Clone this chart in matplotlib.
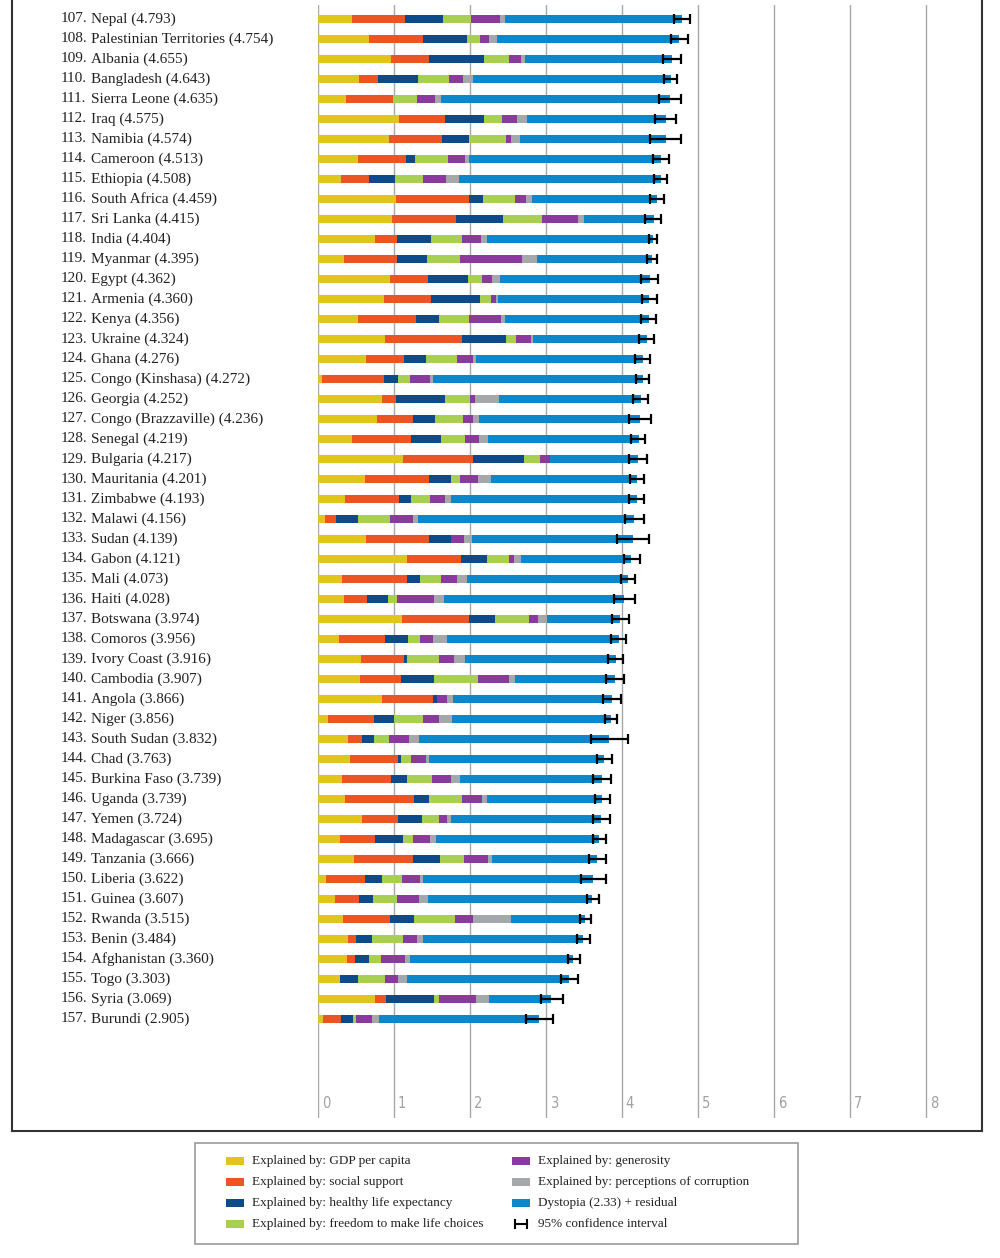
import matplotlib
matplotlib.use("Agg")
import matplotlib.pyplot as plt
from matplotlib.patches import Rectangle
from matplotlib.lines import Line2D

# data (ranks 107-157)
ranks = list(range(107, 158))
countries = ["Nepal", "Palestinian Territories", "Albania", "Bangladesh", "Sierra Leone",
             "Iraq", "Namibia", "Cameroon", "Ethiopia", "South Africa", "Sri Lanka", "India",
             "Myanmar", "Egypt", "Armenia", "Kenya", "Ukraine", "Ghana", "Congo (Kinshasa)",
             "Georgia", "Congo (Brazzaville)", "Senegal", "Bulgaria", "Mauritania", "Zimbabwe",
             "Malawi", "Sudan", "Gabon", "Mali", "Haiti", "Botswana", "Comoros", "Ivory Coast",
             "Cambodia", "Angola", "Niger", "South Sudan", "Chad", "Burkina Faso", "Uganda",
             "Yemen", "Madagascar", "Tanzania", "Liberia", "Guinea", "Rwanda", "Benin",
             "Afghanistan", "Togo", "Syria", "Burundi"]
scores = [4.793, 4.754, 4.655, 4.643, 4.635, 4.575, 4.574, 4.513, 4.508, 4.459, 4.415, 4.404,
          4.395, 4.362, 4.360, 4.356, 4.324, 4.276, 4.272, 4.252, 4.236, 4.219, 4.217, 4.201,
          4.193, 4.156, 4.139, 4.121, 4.073, 4.028, 3.974, 3.956, 3.916, 3.907, 3.866, 3.856,
          3.832, 3.763, 3.739, 3.739, 3.724, 3.695, 3.666, 3.622, 3.607, 3.515, 3.484, 3.360,
          3.303, 3.069, 2.905]
gdp = [.447, .667, .956, .544, .364, 1.070, .930, .530, .298, 1.022, .974, .746, .338, .950,
       .864, .522, .877, .632, .057, .838, .772, .447, 1.114, .618, .355, .088, .627, 1.167,
       .311, .338, 1.100, .276, .561, .557, .846, .136, .400, .425, .320, .351, .583, .290,
       .474, .110, .228, .330, .400, .386, .290, .750, .070]
social = [.697, .719, .500, .250, .627, .596, .706, .623, .377, .960, .846, .290, .706, .500,
          .618, .768, 1.013, .496, .807, .193, .478, .772, .925, .842, .710, .154, .830, .715,
          .864, .303, .886, .600, .566, .535, .662, .605, .184, .632, .636, .908, .474, .460,
          .776, .504, .311, .618, .096, .100, 0, .149, .228]
health = [.500, .570, .728, .526, 0, .513, .346, .123, .338, .189, .618, .447, .395, .518,
          .645, .298, .579, .294, .193, .640, .285, .404, .675, .285, .154, .290, .294, .346,
          .162, .276, .342, .307, .048, .430, .057, .259, .158, .035, .210, .197, .307, .364,
          .355, .232, .189, .316, .220, .184, .240, .632, .162]
freedom = [.368, .180, .325, .400, .307, .246, .487, .430, .373, .420, .513, .408, .434, .190,
           .145, .400, .130, .408, .149, .325, .377, .311, .210, .127, .259, .412, 0, .285,
           .276, .118, .447, .154, .412, .588, .006, .380, .193, .127, .333, .434, .228, .136,
           .311, .254, .307, .544, .400, .162, .346, .066, .044]
generosity = [.382, .110, .162, .190, .246, .197, .070, .224, .294, .140, .469, .250, .816,
              .127, .070, .420, .206, .215, .263, .070, .123, .189, .127, .228, .189, .303,
              .175, .066, .210, .487, .123, .180, .200, .404, .123, .210, .259, .197, .246,
              .272, .105, .224, .320, .241, .294, .232, .193, .311, .175, .482, .200]
corruption = [.070, .105, .053, .127, .079, .130, .114, .060, .171, .079, .079, .080, .197,
              .105, .030, .057, .018, .030, .044, .311, .088, .118, .006, .171, .083, .075,
              .105, .088, .140, .130, .110, .184, .150, .075, .083, .171, .130, .040, .123,
              .057, .053, .075, .048, .044, .123, .504, .070, .061, .114, .167, .096]
dystopia = [2.329, 2.403, 1.931, 2.606, 3.012, 1.823, 1.921, 2.523, 2.657, 1.649, 0.916, 2.183,
            1.509, 1.972, 1.988, 1.891, 1.501, 2.201, 2.759, 1.875, 2.113, 1.978, 1.160, 1.930,
            2.443, 2.834, 2.108, 1.454, 2.110, 2.376, 0.966, 2.255, 1.979, 1.318, 2.089, 2.095,
            2.508, 2.307, 1.871, 1.520, 1.974, 2.146, 1.382, 2.237, 2.155, 0.971, 2.105, 2.156,
            2.138, 0.823, 2.105]
ci_low = [4.684, 4.640, 4.544, 4.553, 4.491, 4.439, 4.368, 4.412, 4.421, 4.364, 4.307, 4.351,
          4.325, 4.246, 4.259, 4.246, 4.224, 4.167, 4.184, 4.149, 4.092, 4.123, 4.092, 4.105,
          4.092, 4.035, 3.930, 4.026, 3.982, 3.895, 3.873, 3.860, 3.820, 3.789, 3.754, 3.772,
          3.596, 3.667, 3.623, 3.640, 3.623, 3.623, 3.566, 3.465, 3.535, 3.447, 3.412, 3.289,
          3.193, 2.939, 2.732]
ci_high = [4.895, 4.868, 4.772, 4.728, 4.772, 4.711, 4.772, 4.614, 4.596, 4.553, 4.518, 4.456,
           4.465, 4.474, 4.465, 4.447, 4.421, 4.368, 4.360, 4.342, 4.386, 4.298, 4.333, 4.289,
           4.289, 4.289, 4.360, 4.232, 4.167, 4.167, 4.092, 4.057, 4.018, 4.026, 3.982, 3.939,
           4.079, 3.864, 3.860, 3.838, 3.842, 3.785, 3.785, 3.789, 3.693, 3.596, 3.575, 3.447,
           3.421, 3.219, 3.092]

components = [gdp, social, health, freedom, generosity, corruption, dystopia]
labels = ["Explained by: GDP per capita", "Explained by: social support",
          "Explained by: healthy life expectancy", "Explained by: freedom to make life choices",
          "Explained by: generosity", "Explained by: perceptions of corruption",
          "Dystopia (2.33) + residual"]
colors = ["#E3C41E", "#EF5322", "#0D4A8A", "#A9CF4F", "#8A3A9C", "#A5A8AA", "#0B87CD"]

serif = ["Liberation Serif", "DejaVu Serif"]

fig = plt.figure(figsize=(10, 12.58), dpi=100)
W, H = 1000, 1258

# axes: 0 at x=318, 8 at x=926 (76 px per unit), a little room right of 8
ax = fig.add_axes([318 / W, 1 - 1118 / H, (928 - 318) / W, (1118 - 5) / H])
y = list(range(len(countries)))
left = [0] * len(countries)
for vals, col in zip(components, colors):
    ax.barh(y, vals, left=left, height=0.42, color=col, zorder=2, linewidth=0)
    left = [a + b for a, b in zip(left, vals)]

xerr = [[s - lo for s, lo in zip(scores, ci_low)], [hi - s for s, hi in zip(scores, ci_high)]]
ax.errorbar(scores, y, xerr=xerr, fmt="none", ecolor="black", elinewidth=1.6,
            capsize=3.8, capthick=1.6, zorder=3)

ax.set_xlim(0, 8 + 2 / 76)
ax.set_ylim(54.95, -0.7)
ax.set_xticks(range(9))
ax.set_xticklabels([])
ax.set_yticks([])
ax.tick_params(length=0)
ax.grid(axis="x", color="#a8a8a8", linewidth=1, zorder=0)
for s in ax.spines.values():
    s.set_visible(False)
for t in range(9):
    ax.text(t + 0.05, 54.6, str(t), color="#a0a0a0", fontsize=10.5, ha="left", va="bottom",
            family="DejaVu Sans", fontstretch="condensed")

# country labels
for i, (r, c, s) in enumerate(zip(ranks, countries, scores)):
    ypx = 19 + 20 * i
    fig.text(61 / W, 1 - ypx / H, f"{r}.", fontsize=11, family=serif, color="#222222",
             va="center", ha="left")
    fig.text(91 / W, 1 - ypx / H, f"{c} ({s:.3f})", fontsize=11, family=serif,
             color="#222222", va="center", ha="left")

# outer frame (no top line)
for xs, ys in [([12, 12], [0, 1131]), ([982, 982], [0, 1131]), ([12, 982], [1131, 1131])]:
    fig.add_artist(Line2D([x / W for x in xs], [1 - v / H for v in ys], color="#333333",
                          linewidth=1.5))

# legend box
fig.add_artist(Rectangle((195 / W, 1 - 1244 / H), (798 - 195) / W, (1244 - 1143) / H,
                         fill=False, edgecolor="#999999", linewidth=1.2))
rows_y = [1161, 1182, 1203, 1224]
entries = list(zip(labels, colors))
for k, (lab, col) in enumerate(entries):
    colx = 226 if k < 4 else 512
    ypx = rows_y[k % 4]
    fig.add_artist(Rectangle((colx / W, 1 - (ypx + 4) / H), 18 / W, 8 / H,
                             facecolor=col, edgecolor="none"))
    fig.text((colx + 26) / W, 1 - ypx / H, lab, fontsize=9.5, family=serif, color="#222222",
             va="center", ha="left")
# CI legend symbol
ypx = rows_y[3]
fig.add_artist(Line2D([515 / W, 527 / W], [1 - ypx / H] * 2, color="black", linewidth=1.5))
for xx in (515, 527):
    fig.add_artist(Line2D([xx / W] * 2, [1 - (ypx - 4) / H, 1 - (ypx + 4) / H], color="black",
                          linewidth=1.5))
fig.text(538 / W, 1 - ypx / H, "95% confidence interval", fontsize=9.5, family=serif,
         color="#222222", va="center", ha="left")

fig.savefig("out.png", dpi=100, facecolor="white")
